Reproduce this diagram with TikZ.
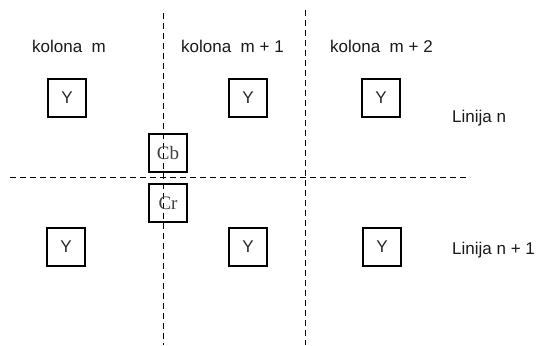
\documentclass[tikz,border=0pt]{standalone}
\usepackage{fontspec}
\setmainfont{Liberation Sans}
\newfontfamily\serifcb{Liberation Serif}
\begin{document}
\begin{tikzpicture}[x=1pt,y=1pt,
  sample/.style={draw=black, line width=2.3pt, minimum size=38pt, inner sep=0pt,
    font=\fontsize{17}{20}\selectfont, text=black!85},
  chroma/.style={sample, font=\serifcb\fontsize{19}{22}\selectfont, text=black!75},
  label/.style={anchor=base west, inner sep=0pt, font=\fontsize{17}{20}\selectfont, text=black!90},
  divider/.style={draw=black, line width=1pt, dash pattern=on 6pt off 4pt}]
\useasboundingbox (0,0) rectangle (540,345);
% dividers
\coordinate (v1t) at (163,332); \coordinate (v1b) at (163,0);
\coordinate (v2t) at (305,335); \coordinate (v2b) at (305,0);
\coordinate (hl) at (10,167); \coordinate (hr) at (470,167);
\draw[divider] (v1t) -- (v1b);
\draw[divider] (v2t) -- (v2b);
\draw[divider] (hl) -- (hr);
% labels
\node[label] (k1) at (32,292) {kolona\ \ m};
\node[label] (k2) at (181,292) {kolona\ \ m + 1};
\node[label] (k3) at (330,292) {kolona\ \ m + 2};
\node[label] (l1) at (452,222) {Linija n};
\node[label] (l2) at (452,90) {Linija n + 1};
% samples
\node[sample] (y11) at (67,247) {Y};
\node[sample] (y12) at (248,247) {Y};
\node[sample] (y13) at (381,247) {Y};
\node[sample] (y21) at (66,98) {Y};
\node[sample] (y22) at (248,98) {Y};
\node[sample] (y23) at (382,98) {Y};
\node[chroma] (cb) at (168,192) {Cb};
\node[chroma] (cr) at (168,142) {Cr};
\end{tikzpicture}
\end{document}
